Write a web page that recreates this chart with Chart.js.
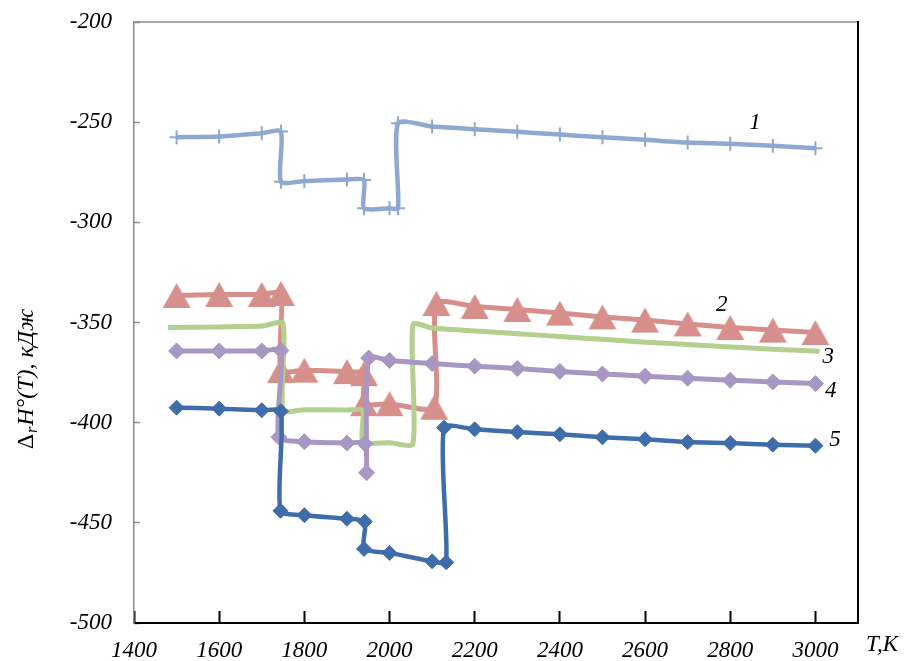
<!DOCTYPE html>
<html>
<head>
<meta charset="utf-8">
<script src="https://cdn.jsdelivr.net/npm/chart.js@4.4.1/dist/chart.umd.min.js"></script>
<style>
  html, body { margin: 0; padding: 0; background: #fff; }
  #wrap { width: 904px; height: 661px; }
</style>
</head>
<body>
<div id="wrap"><canvas id="enthalpyChart" width="904" height="661"></canvas></div>
<script>
// Temperatures (K) and enthalpies (kJ), one pair per curve
const t1 = [1500, 1600, 1700, 1745, 1745, 1800, 1900, 1940, 1940, 2000, 2020, 2020, 2100, 2200, 2300, 2400, 2500, 2600, 2700, 2800, 2900, 3000];
const h1 = [-257.5, -257.2, -255.5, -254.7, -279.7, -279.4, -278.6, -278.9, -293, -293, -293, -250.5, -252.2, -253.5, -254.8, -256.2, -257.5, -258.8, -260.2, -260.8, -261.8, -263];

const t2 = [1500, 1600, 1700, 1745, 1745, 1800, 1900, 1940, 1940, 2000, 2105, 2110, 2200, 2300, 2400, 2500, 2600, 2700, 2800, 2900, 3000];
const h2 = [-336.5, -336, -336, -335.5, -374, -373.8, -374.5, -375.5, -390.5, -390.5, -392.3, -340.5, -342, -343.5, -345.3, -347.2, -348.8, -350.7, -352.5, -353.8, -355];

const t3 = [1480, 1600, 1700, 1750, 1750, 1800, 1900, 1937, 1937, 2000, 2055, 2055, 2100, 2200, 2300, 2400, 2500, 2600, 2700, 2800, 2900, 3010];
const h3 = [-352.5, -352.2, -351.8, -350.5, -393.8, -393.5, -393.7, -394, -409.5, -410, -410.5, -351, -352.8, -354.2, -355.6, -357, -358.4, -359.8, -361, -362.2, -363.3, -364.4];

const t4 = [1500, 1600, 1700, 1745, 1740, 1800, 1900, 1942, 1946, 1951, 2000, 2100, 2200, 2300, 2400, 2500, 2600, 2700, 2800, 2900, 3000];
const h4 = [-364.2, -364.2, -364.2, -364, -407.2, -409.5, -410.2, -410.5, -425, -367.7, -369, -370.5, -371.8, -373, -374.4, -375.7, -376.8, -377.8, -378.8, -379.7, -380.5];

const t5 = [1500, 1600, 1700, 1745, 1744, 1800, 1900, 1942, 1940, 2000, 2100, 2133, 2128, 2200, 2300, 2400, 2500, 2600, 2700, 2800, 2900, 3000];
const h5 = [-392.5, -393, -393.8, -394.3, -444, -446.2, -448, -449.4, -463, -465, -469.2, -469.7, -402.5, -403.3, -404.7, -405.8, -407.3, -408.3, -409.7, -410.2, -411, -411.5];

// curve numbers and where they sit (T, kJ)
const curveNames = ["1", "2", "3", "4", "5"];
const nameT = [2858, 2780, 3030, 3036, 3046];
const nameH = [-250.5, -341.3, -367.2, -384, -408.5];

const xTicks = [1400, 1600, 1800, 2000, 2200, 2400, 2600, 2800, 3000];

const serif = "'Liberation Serif', 'Times New Roman', serif";

function pts(ts, hs) {
  return ts.map((t, i) => ({ x: t, y: hs[i] }));
}

// triangle marker centred on its box, like the spreadsheet one
function makeTriangle(color) {
  const c = document.createElement("canvas");
  c.width = 30;
  c.height = 27;
  const g = c.getContext("2d");
  g.fillStyle = color;
  g.beginPath();
  g.moveTo(15, 1);
  g.lineTo(29, 26);
  g.lineTo(1, 26);
  g.closePath();
  g.fill();
  return c;
}

const labelsPlugin = {
  id: "labelsPlugin",
  afterDraw(chart) {
    const { ctx, chartArea: a, scales } = chart;
    ctx.save();
    // top and right frame
    ctx.lineWidth = 1.5;
    ctx.strokeStyle = "#8c8c8c";
    ctx.beginPath();
    ctx.moveTo(a.left, a.top);
    ctx.lineTo(a.right, a.top);
    ctx.stroke();
    ctx.lineWidth = 2;
    ctx.strokeStyle = "#000";
    ctx.beginPath();
    ctx.moveTo(a.right, a.top - 1);
    ctx.lineTo(a.right, a.bottom);
    ctx.stroke();

    // curve numbers
    ctx.fillStyle = "#000";
    ctx.font = "italic 23px " + serif;
    ctx.textAlign = "center";
    ctx.textBaseline = "middle";
    for (let i = 0; i < curveNames.length; i++) {
      ctx.fillText(curveNames[i], scales.x.getPixelForValue(nameT[i]), scales.y.getPixelForValue(nameH[i]));
    }

    // x axis title
    ctx.fillText("T,K", 882, 645);

    // y axis title with subscript
    const parts = [
      { t: "Δ", f: "24px " + serif, dy: 0 },
      { t: "r", f: "italic 16px " + serif, dy: 4 },
      { t: "H°(T), кДж", f: "italic 24px " + serif, dy: 0 },
    ];
    let w = 0;
    parts.forEach(p => {
      ctx.font = p.f;
      p.w = ctx.measureText(p.t).width;
      w += p.w;
    });
    ctx.translate(33, 380);
    ctx.rotate(-Math.PI / 2);
    ctx.textAlign = "left";
    ctx.textBaseline = "alphabetic";
    let x = -w / 2;
    parts.forEach(p => {
      ctx.font = p.f;
      ctx.fillText(p.t, x, p.dy);
      x += p.w + 1;
    });
    ctx.restore();
  },
};

const c1 = "#8ea8d0";
const c2 = "#d78f8c";
const c3 = "#b4cf8e";
const c4 = "#a797c2";
const c5 = "#3e6da9";
const bend = 0.22;

const ctx = document.getElementById("enthalpyChart").getContext("2d");
const chart = new Chart(ctx, {
  type: "line",
  data: {
    datasets: [
      {
        data: pts(t1, h1),
        borderColor: c1,
        borderWidth: 4.5,
        pointStyle: "cross",
        pointRadius: 7,
        pointBorderWidth: 2,
        pointBorderColor: c1,
        pointBackgroundColor: c1,
        tension: bend,
        order: 5,
      },
      {
        data: pts(t2, h2),
        borderColor: c2,
        borderWidth: 5,
        pointStyle: makeTriangle(c2),
        pointRadius: 8,
        tension: bend,
        order: 4,
      },
      {
        data: pts(t3, h3),
        borderColor: c3,
        borderWidth: 5,
        pointRadius: 0,
        tension: bend,
        order: 3,
      },
      {
        data: pts(t4, h4),
        borderColor: c4,
        borderWidth: 5,
        pointStyle: "rectRot",
        pointRadius: 8,
        pointBorderWidth: 1,
        pointBorderColor: c4,
        pointBackgroundColor: c4,
        tension: bend,
        order: 2,
      },
      {
        data: pts(t5, h5),
        borderColor: c5,
        borderWidth: 4.5,
        pointStyle: "rectRot",
        pointRadius: 7.5,
        pointBorderWidth: 1,
        pointBorderColor: c5,
        pointBackgroundColor: c5,
        tension: bend,
        order: 1,
      },
    ],
  },
  options: {
    responsive: false,
    animation: false,
    devicePixelRatio: 1,
    layout: { padding: { left: 0, top: 22, right: 46, bottom: 0 } },
    plugins: {
      legend: { display: false },
      tooltip: { enabled: false },
    },
    scales: {
      x: {
        type: "linear",
        min: 1400,
        max: 3100,
        afterFit: s => { s.height = 38; },
        afterBuildTicks: s => { s.ticks = xTicks.map(v => ({ value: v })); },
        border: { color: "#000", width: 2 },
        grid: { drawOnChartArea: false, tickLength: -12, tickColor: "#000", tickWidth: 2 },
        ticks: {
          padding: 26,
          color: "#000",
          maxRotation: 0,
          autoSkip: false,
          font: { family: serif, style: "italic", size: 23 },
          callback: v => String(v),
        },
      },
      y: {
        min: -500,
        max: -200,
        afterFit: s => {
          s.width = 134;
          s.paddingTop = 0;
          s.paddingBottom = 0;
        },
        border: { color: "#8c8c8c", width: 1.5 },
        grid: { drawOnChartArea: false, tickLength: -6, tickColor: "#8c8c8c", tickWidth: 1.5 },
        ticks: {
          stepSize: 50,
          padding: 28,
          color: "#000",
          font: { family: serif, style: "italic", size: 23 },
          callback: v => String(v),
        },
      },
    },
  },
  plugins: [labelsPlugin],
});
</script>
</body>
</html>
